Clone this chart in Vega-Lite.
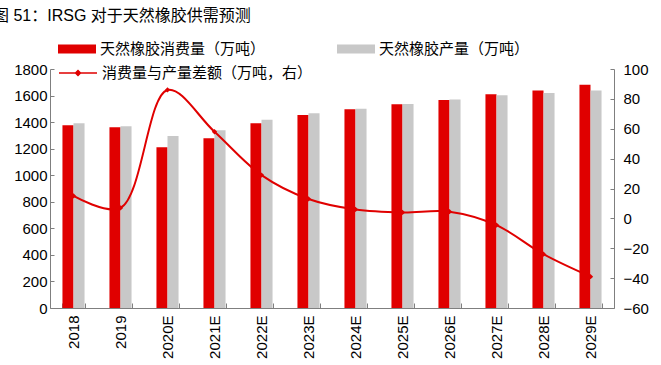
{
  "$schema": "https://vega.github.io/schema/vega-lite/v6.json",
  "width": 564,
  "height": 239,
  "autosize": {"type": "none"},
  "padding": {"left": 50, "top": 69, "right": 47, "bottom": 57},
  "background": "white",
  "title": {
    "text": "图  51：IRSG 对于天然橡胶供需预测",
    "anchor": "start",
    "frame": "group",
    "dx": -57,
    "fontSize": 16,
    "fontWeight": "normal",
    "font": "Liberation Sans, Noto Sans CJK SC",
    "color": "#000000",
    "offset": 6
  },
  "config": {
    "view": {"stroke": null},
    "axis": {
      "labelFont": "Liberation Sans",
      "labelFontSize": 15,
      "labelColor": "#000000",
      "domainColor": "#7F7F7F",
      "tickColor": "#7F7F7F",
      "grid": false,
      "title": null
    },
    "legend": {
      "labelFont": "Liberation Sans, Noto Sans CJK SC",
      "labelFontSize": 15,
      "labelColor": "#000000",
      "labelLimit": 0,
      "padding": 0,
      "title": null
    }
  },
  "datasets": {
    "bars": [
      {"year": "2018", "series": "天然橡胶消费量（万吨）", "value": 1376},
      {"year": "2019", "series": "天然橡胶消费量（万吨）", "value": 1361},
      {"year": "2020E", "series": "天然橡胶消费量（万吨）", "value": 1210},
      {"year": "2021E", "series": "天然橡胶消费量（万吨）", "value": 1278},
      {"year": "2022E", "series": "天然橡胶消费量（万吨）", "value": 1391},
      {"year": "2023E", "series": "天然橡胶消费量（万吨）", "value": 1453},
      {"year": "2024E", "series": "天然橡胶消费量（万吨）", "value": 1496},
      {"year": "2025E", "series": "天然橡胶消费量（万吨）", "value": 1534},
      {"year": "2026E", "series": "天然橡胶消费量（万吨）", "value": 1566},
      {"year": "2027E", "series": "天然橡胶消费量（万吨）", "value": 1609},
      {"year": "2028E", "series": "天然橡胶消费量（万吨）", "value": 1639},
      {"year": "2029E", "series": "天然橡胶消费量（万吨）", "value": 1682},
      {"year": "2018", "series": "天然橡胶产量（万吨）", "value": 1391},
      {"year": "2019", "series": "天然橡胶产量（万吨）", "value": 1368},
      {"year": "2020E", "series": "天然橡胶产量（万吨）", "value": 1295},
      {"year": "2021E", "series": "天然橡胶产量（万吨）", "value": 1338},
      {"year": "2022E", "series": "天然橡胶产量（万吨）", "value": 1418},
      {"year": "2023E", "series": "天然橡胶产量（万吨）", "value": 1466},
      {"year": "2024E", "series": "天然橡胶产量（万吨）", "value": 1501},
      {"year": "2025E", "series": "天然橡胶产量（万吨）", "value": 1536},
      {"year": "2026E", "series": "天然橡胶产量（万吨）", "value": 1571},
      {"year": "2027E", "series": "天然橡胶产量（万吨）", "value": 1602},
      {"year": "2028E", "series": "天然橡胶产量（万吨）", "value": 1619},
      {"year": "2029E", "series": "天然橡胶产量（万吨）", "value": 1639}
    ],
    "diff": [
      {"year": "2018", "diff": 15},
      {"year": "2019", "diff": 7},
      {"year": "2020E", "diff": 86},
      {"year": "2021E", "diff": 58},
      {"year": "2022E", "diff": 29},
      {"year": "2023E", "diff": 13},
      {"year": "2024E", "diff": 6},
      {"year": "2025E", "diff": 4},
      {"year": "2026E", "diff": 4.5},
      {"year": "2027E", "diff": -4.5},
      {"year": "2028E", "diff": -24},
      {"year": "2029E", "diff": -39}
    ]
  },
  "encoding": {
    "x": {
      "field": "year",
      "type": "nominal",
      "sort": null,
      "scale": {"paddingInner": 0.53, "paddingOuter": 0.265},
      "axis": {
        "labelAngle": -90,
        "labelAlign": "right",
        "labelBaseline": "middle",
        "tickBand": "extent",
        "tickSize": -5,
        "labelPadding": 12
      }
    }
  },
  "layer": [
    {
      "data": {"name": "bars"},
      "mark": {"type": "bar"},
      "encoding": {
        "xOffset": {
          "field": "series",
          "type": "nominal",
          "sort": ["天然橡胶消费量（万吨）", "天然橡胶产量（万吨）"],
          "scale": {"paddingInner": 0, "paddingOuter": 0}
        },
        "y": {
          "field": "value",
          "type": "quantitative",
          "scale": {"domain": [0, 1800], "nice": false},
          "axis": {
            "orient": "left",
            "format": "d",
            "values": [0, 200, 400, 600, 800, 1000, 1200, 1400, 1600, 1800],
            "tickSize": -4,
            "labelPadding": 7
          }
        },
        "color": {
          "field": "series",
          "type": "nominal",
          "sort": ["天然橡胶消费量（万吨）", "天然橡胶产量（万吨）"],
          "scale": {
            "domain": ["天然橡胶消费量（万吨）", "天然橡胶产量（万吨）"],
            "range": ["#E00000", "#C8C8C8"]
          },
          "legend": {
            "orient": "none",
            "legendX": 8,
            "legendY": -39,
            "direction": "horizontal",
            "columns": 2,
            "columnPadding": 71,
            "symbolType": "M-1,-0.237H1V0.237H-1Z",
            "symbolSize": 1444,
            "symbolStrokeWidth": 0,
            "labelOffset": 4
          }
        }
      }
    },
    {
      "data": {"name": "diff"},
      "mark": {
        "type": "line",
        "interpolate": "catmull-rom",
        "strokeWidth": 2,
        "point": {"shape": "diamond", "size": 28, "filled": true, "color": "#E00000"}
      },
      "encoding": {
        "y": {
          "field": "diff",
          "type": "quantitative",
          "scale": {"domain": [-60, 100], "nice": false},
          "axis": {
            "orient": "right",
            "values": [-60, -40, -20, 0, 20, 40, 60, 80, 100],
            "tickSize": -4,
            "labelPadding": 13
          }
        },
        "color": {
          "datum": "消费量与产量差额（万吨，右）",
          "type": "nominal",
          "scale": {"range": ["#E00000"]},
          "legend": {
            "orient": "none",
            "legendX": 8,
            "legendY": -16,
            "symbolType": "M-1,0H1M-0.13,0L0,-0.13L0.13,0L0,0.13Z",
            "symbolSize": 1444,
            "symbolStrokeWidth": 1.5,
            "symbolFillColor": "#E00000",
            "symbolStrokeColor": "#E00000",
            "labelOffset": 4
          }
        }
      }
    }
  ],
  "resolve": {"scale": {"y": "independent", "color": "independent"}}
}
